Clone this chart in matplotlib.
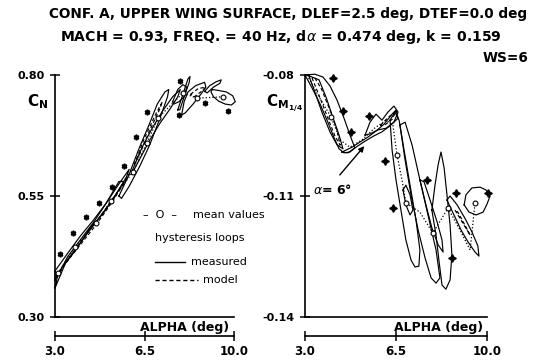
import matplotlib
matplotlib.use("Agg")
import matplotlib.pyplot as plt
from matplotlib.lines import Line2D

plt.rcParams['font.family'] = ['DejaVu Sans']
plt.rcParams['mathtext.fontset'] = 'dejavusans'

W, H = 541, 363

# ---------------- data ----------------
x_ticks = [3.0, 6.5, 10.0]
x_tick_labels = ["3.0", "6.5", "10.0"]
cn_ticks = [0.30, 0.55, 0.80]
cn_tick_labels = ["0.30", "0.55", "0.80"]
cm_ticks = [-0.14, -0.11, -0.08]
cm_tick_labels = ["-0.14", "-0.11", "-0.08"]

# left panel: normal force coefficient
cn_mean_alpha = [3.1, 3.8, 4.6, 5.2, 6.05, 6.6, 7.03, 8.0, 8.55, 9.57]
cn_mean_value = [0.39, 0.445, 0.495, 0.54, 0.60, 0.66, 0.711, 0.763, 0.752, 0.755]
cn_star_alpha = [3.2, 3.7, 4.21, 4.72, 5.23, 5.7, 6.17, 6.6, 7.85, 7.89, 8.87, 9.77]
cn_star_value = [0.43, 0.474, 0.507, 0.536, 0.569, 0.612, 0.672, 0.724, 0.717, 0.788, 0.742, 0.726]

cn_loops_measured = [
    [(3.0, 0.395), (3.5, 0.432), (4.0, 0.468), (4.5, 0.50), (5.0, 0.535), (5.5, 0.575), (5.9, 0.605),
     (5.8, 0.59), (5.3, 0.545), (4.8, 0.51), (4.3, 0.475), (3.8, 0.44), (3.3, 0.405), (3.0, 0.375)],
    [(3.0, 0.36), (3.4, 0.41), (3.9, 0.445), (4.4, 0.485), (4.9, 0.515), (5.4, 0.555), (5.7, 0.58),
     (5.5, 0.58), (5.0, 0.535), (4.5, 0.495), (4.0, 0.46), (3.5, 0.425), (3.1, 0.385)],
    [(5.5, 0.55), (5.9, 0.595), (6.3, 0.65), (6.7, 0.70), (7.0, 0.74), (7.3, 0.765), (7.45, 0.77),
     (7.4, 0.755), (7.1, 0.71), (6.7, 0.655), (6.3, 0.61), (5.9, 0.57), (5.6, 0.545)],
    [(6.0, 0.60), (6.4, 0.65), (6.8, 0.69), (7.2, 0.725), (7.6, 0.755), (7.9, 0.77), (7.8, 0.755),
     (7.5, 0.73), (7.1, 0.70), (6.7, 0.665), (6.3, 0.625), (6.0, 0.595)],
    [(7.95, 0.717), (8.05, 0.745), (8.2, 0.765), (8.5, 0.778), (8.85, 0.785), (8.9, 0.775), (8.7, 0.76),
     (8.4, 0.74), (8.1, 0.722), (7.95, 0.717)],
    [(9.15, 0.770), (9.4, 0.768), (9.7, 0.765), (9.95, 0.757), (10.05, 0.745), (9.9, 0.738), (9.65, 0.74),
     (9.4, 0.746), (9.2, 0.755), (9.1, 0.765)],
    [(7.8, 0.728), (8.0, 0.76), (8.2, 0.792), (8.28, 0.797), (8.25, 0.785), (8.05, 0.755), (7.88, 0.728)],
    [(8.85, 0.766), (9.05, 0.778), (9.3, 0.786), (9.5, 0.79), (9.45, 0.783), (9.2, 0.775), (8.95, 0.763)],
    [(7.6, 0.745), (7.8, 0.77), (8.0, 0.78), (8.15, 0.775), (8.05, 0.755), (7.85, 0.745), (7.65, 0.74)],
]
cn_loops_model = [
    [(3.05, 0.385), (3.6, 0.425), (4.2, 0.47), (4.8, 0.51), (5.4, 0.555), (5.9, 0.595),
     (5.8, 0.585), (5.2, 0.535), (4.6, 0.49), (4.0, 0.45), (3.4, 0.41), (3.05, 0.38)],
    [(6.1, 0.615), (6.5, 0.67), (6.9, 0.715), (7.2, 0.745), (7.1, 0.73), (6.7, 0.685), (6.3, 0.635)],
    [(8.3, 0.76), (8.6, 0.772), (8.9, 0.775), (8.7, 0.765), (8.45, 0.755)],
]

# right panel: quarter-chord pitching moment coefficient
cm_mean_alpha = [3.08, 3.5, 4.0, 4.35, 4.73, 5.19, 5.69, 6.12, 6.38, 6.54, 6.73, 6.88, 7.42, 7.92, 8.5, 8.96, 9.35, 9.54]
cm_mean_value = [-0.0800, -0.0850, -0.0904, -0.0961, -0.0979, -0.0961, -0.0931, -0.0912, -0.0924, -0.0998,
                 -0.1060, -0.1117, -0.1140, -0.1192, -0.1130, -0.1184, -0.1234, -0.1117]
cm_circle_alpha = [4.0, 6.54, 6.88, 7.92, 8.5, 9.54]
cm_circle_value = [-0.0904, -0.0998, -0.1117, -0.1192, -0.1130, -0.1117]
cm_star_alpha = [4.08, 4.46, 4.77, 5.46, 6.08, 7.69, 6.38, 8.81, 10.05, 8.65]
cm_star_value = [-0.0807, -0.0889, -0.0941, -0.0902, -0.1013, -0.1060, -0.1130, -0.1093, -0.1093, -0.1254]

cm_loops_measured = [
    [(3.00, -0.0800), (3.27, -0.0832), (3.58, -0.0872), (3.88, -0.0917), (4.12, -0.0956), (4.31, -0.0983),
     (4.50, -0.0993), (4.73, -0.0991), (4.92, -0.0981), (4.73, -0.0949), (4.50, -0.0907), (4.23, -0.0862),
     (3.96, -0.0827), (3.69, -0.0805), (3.38, -0.0798)],
    [(3.15, -0.0802), (3.38, -0.0842), (3.65, -0.0892), (3.96, -0.0941), (4.23, -0.0973), (4.46, -0.0983),
     (4.31, -0.0949), (4.04, -0.0899), (3.81, -0.0855), (3.54, -0.0812)],
    [(4.42, -0.0991), (4.81, -0.0979), (5.12, -0.0966), (5.42, -0.0954), (5.73, -0.0939), (6.04, -0.0922),
     (6.35, -0.0897), (6.50, -0.0887), (6.58, -0.0907), (6.27, -0.0926), (5.96, -0.0941), (5.65, -0.0951),
     (5.31, -0.0964), (4.96, -0.0979), (4.65, -0.0993)],
    [(5.31, -0.0949), (5.50, -0.0917), (5.73, -0.0897), (5.96, -0.0912), (6.19, -0.0892), (6.42, -0.0877),
     (6.58, -0.0892), (6.42, -0.0917), (6.12, -0.0932), (5.81, -0.0936), (5.50, -0.0946)],
    [(6.27, -0.0912), (6.35, -0.0986), (6.50, -0.1060), (6.69, -0.1135), (6.88, -0.1209), (7.08, -0.1259),
     (7.23, -0.1276), (7.38, -0.1274), (7.42, -0.1234), (7.27, -0.1160), (7.04, -0.1073), (6.81, -0.0986),
     (6.62, -0.0912), (6.46, -0.0892)],
    [(6.65, -0.0924), (6.85, -0.1011), (7.08, -0.1098), (7.35, -0.1184), (7.62, -0.1254), (7.85, -0.1303),
     (8.04, -0.1316), (8.19, -0.1303), (8.04, -0.1234), (7.73, -0.1147), (7.42, -0.1060), (7.12, -0.0974),
     (6.85, -0.0917)],
    [(7.88, -0.1135), (8.00, -0.1073), (8.12, -0.1023), (8.23, -0.0991), (8.35, -0.1030), (8.46, -0.1097),
     (8.58, -0.1172), (8.65, -0.1246), (8.58, -0.1308), (8.42, -0.1331), (8.27, -0.1321), (8.15, -0.1259),
     (8.04, -0.1197)],
    [(8.46, -0.1110), (8.73, -0.1147), (9.00, -0.1184), (9.27, -0.1214), (9.54, -0.1239), (9.69, -0.1249),
     (9.65, -0.1224), (9.42, -0.1189), (9.15, -0.1155), (8.85, -0.1122), (8.58, -0.1100)],
    [(9.12, -0.1122), (9.19, -0.1097), (9.42, -0.1080), (9.73, -0.1078), (9.96, -0.1085), (10.12, -0.1100),
     (10.0, -0.1120), (9.85, -0.1140), (9.58, -0.1147), (9.31, -0.1140)],
    [(7.42, -0.1060), (7.65, -0.1122), (7.88, -0.1179), (8.12, -0.1221), (8.31, -0.1239), (8.27, -0.1209),
     (8.08, -0.1164), (7.81, -0.1110), (7.58, -0.1065)],
    [(6.77, -0.1085), (6.88, -0.1122), (7.04, -0.1147), (7.15, -0.1135), (7.04, -0.1097), (6.88, -0.1073)],
]
cm_loops_model = [
    [(3.27, -0.0807), (3.58, -0.0857), (3.88, -0.0907), (4.15, -0.0951), (4.35, -0.0974), (4.23, -0.0936),
     (3.96, -0.0887), (3.65, -0.0837), (3.38, -0.0807)],
    [(5.9, -0.0925), (6.2, -0.0905), (6.5, -0.0890), (6.35, -0.0910), (6.05, -0.0925)],
    [(8.77, -0.1135), (9.04, -0.1164), (9.35, -0.1197), (9.15, -0.1172), (8.88, -0.1140)],
]

# ---------------- figure ----------------
fig = plt.figure(figsize=(W / 100, H / 100), dpi=100)


def px_ax(x0, x1, y0, y1):
    return fig.add_axes([x0 / W, 1 - y1 / H, (x1 - x0) / W, (y1 - y0) / H])


def style_axis(ax, yticks, ylabels, ylim):
    ax.set_xlim(3.0, 10.0)
    ax.set_ylim(*ylim)
    for s in ['top', 'right']:
        ax.spines[s].set_visible(False)
    ax.spines['left'].set_linewidth(1.2)
    ax.spines['bottom'].set_position(('outward', 19 * 0.72))
    ax.spines['bottom'].set_linewidth(1.2)
    ax.axhline(ylim[0], color='k', lw=1.2, clip_on=False)
    ax.set_xticks(x_ticks)
    ax.set_xticklabels(x_tick_labels, fontsize=8.5, fontweight='bold')
    ax.set_yticks(yticks)
    ax.set_yticklabels(ylabels, fontsize=8, fontweight='bold')
    ax.tick_params(axis='both', direction='inout', length=7, width=1.1, pad=3)
    ax.tick_params(axis='y', pad=4)
    ax.patch.set_visible(False)


def draw_loops(ax, loops, ls):
    for lp in loops:
        xs = [p[0] for p in lp] + [lp[0][0]]
        ys = [p[1] for p in lp] + [lp[0][1]]
        ax.plot(xs, ys, color='k', lw=0.85, ls=ls, clip_on=False, solid_joinstyle='round')


# left panel
ax1 = px_ax(55, 234, 75, 317)
style_axis(ax1, cn_ticks, cn_tick_labels, (0.30, 0.80))
draw_loops(ax1, cn_loops_measured, '-')
draw_loops(ax1, cn_loops_model, (0, (3, 2)))
ax1.plot(cn_mean_alpha, cn_mean_value, color='k', lw=0.9, ls=':', marker='o', ms=3.5,
         mfc='white', mew=0.8, clip_on=False)
ax1.plot(cn_star_alpha, cn_star_value, ls='none', marker=(6, 2, 0), ms=4, mew=1.2, color='k', clip_on=False)

# right panel
ax2 = px_ax(305, 487, 75, 317)
style_axis(ax2, cm_ticks, cm_tick_labels, (-0.14, -0.08))
draw_loops(ax2, cm_loops_measured, '-')
draw_loops(ax2, cm_loops_model, (0, (3, 2)))
ax2.plot(cm_mean_alpha, cm_mean_value, color='k', lw=0.9, ls=':', clip_on=False)
ax2.plot(cm_circle_alpha, cm_circle_value, ls='none', marker='o', ms=3.5, mfc='white', mew=0.8,
         color='k', clip_on=False)
ax2.plot(cm_star_alpha, cm_star_value, ls='none', marker=(4, 1, 0), ms=5.5, color='k', clip_on=False)

ax2.annotate('', xy=(5.35, -0.0971), xytext=(4.27, -0.1053),
             arrowprops=dict(arrowstyle='-|>', lw=1.0, color='k', mutation_scale=8))
ax2.text(4.05, -0.1085, r'$\alpha$= 6°', fontsize=9, fontweight='bold', ha='center', va='center')


def ftext(x, y, s, **kw):
    fig.text(x / W, 1 - y / H, s, **kw)


# titles
ftext(288, 14, "CONF. A, UPPER WING SURFACE, DLEF=2.5 deg, DTEF=0.0 deg",
      fontsize=9.85, fontweight='bold', ha='center', va='center')
ftext(281, 37, r"MACH = 0.93, FREQ. = 40 Hz, d$\alpha$ = 0.474 deg, k = 0.159",
      fontsize=10.1, fontweight='bold', ha='center', va='center')
ftext(528, 58, "WS=6", fontsize=9.8, fontweight='bold', ha='right', va='center')

# axis labels
ftext(38, 102, r'$\mathbf{C_N}$', fontsize=11, ha='center', va='center')
ftext(266, 104, r'$\mathbf{C_{M_{1/4}}}$', fontsize=11, ha='left', va='center')
ftext(185, 328, "ALPHA (deg)", fontsize=9, fontweight='bold', ha='center', va='center')
ftext(439, 328, "ALPHA (deg)", fontsize=9, fontweight='bold', ha='center', va='center')

# legend
ftext(160, 215, "–  O  –", fontsize=8, ha='center', va='center')
ftext(193, 215, "mean values", fontsize=8, ha='left', va='center')
ftext(155, 238, "hysteresis loops", fontsize=8, ha='left', va='center')
fig.add_artist(Line2D([155 / W, 185 / W], [1 - 262 / H, 1 - 262 / H], color='k', lw=1.0))
ftext(191, 262, "measured", fontsize=8, ha='left', va='center')
fig.add_artist(Line2D([155 / W, 198 / W], [1 - 280 / H, 1 - 280 / H], color='k', lw=1.0, ls=(0, (3, 2))))
ftext(203, 280, "model", fontsize=8, ha='left', va='center')

fig.savefig("out.png", dpi=100)
